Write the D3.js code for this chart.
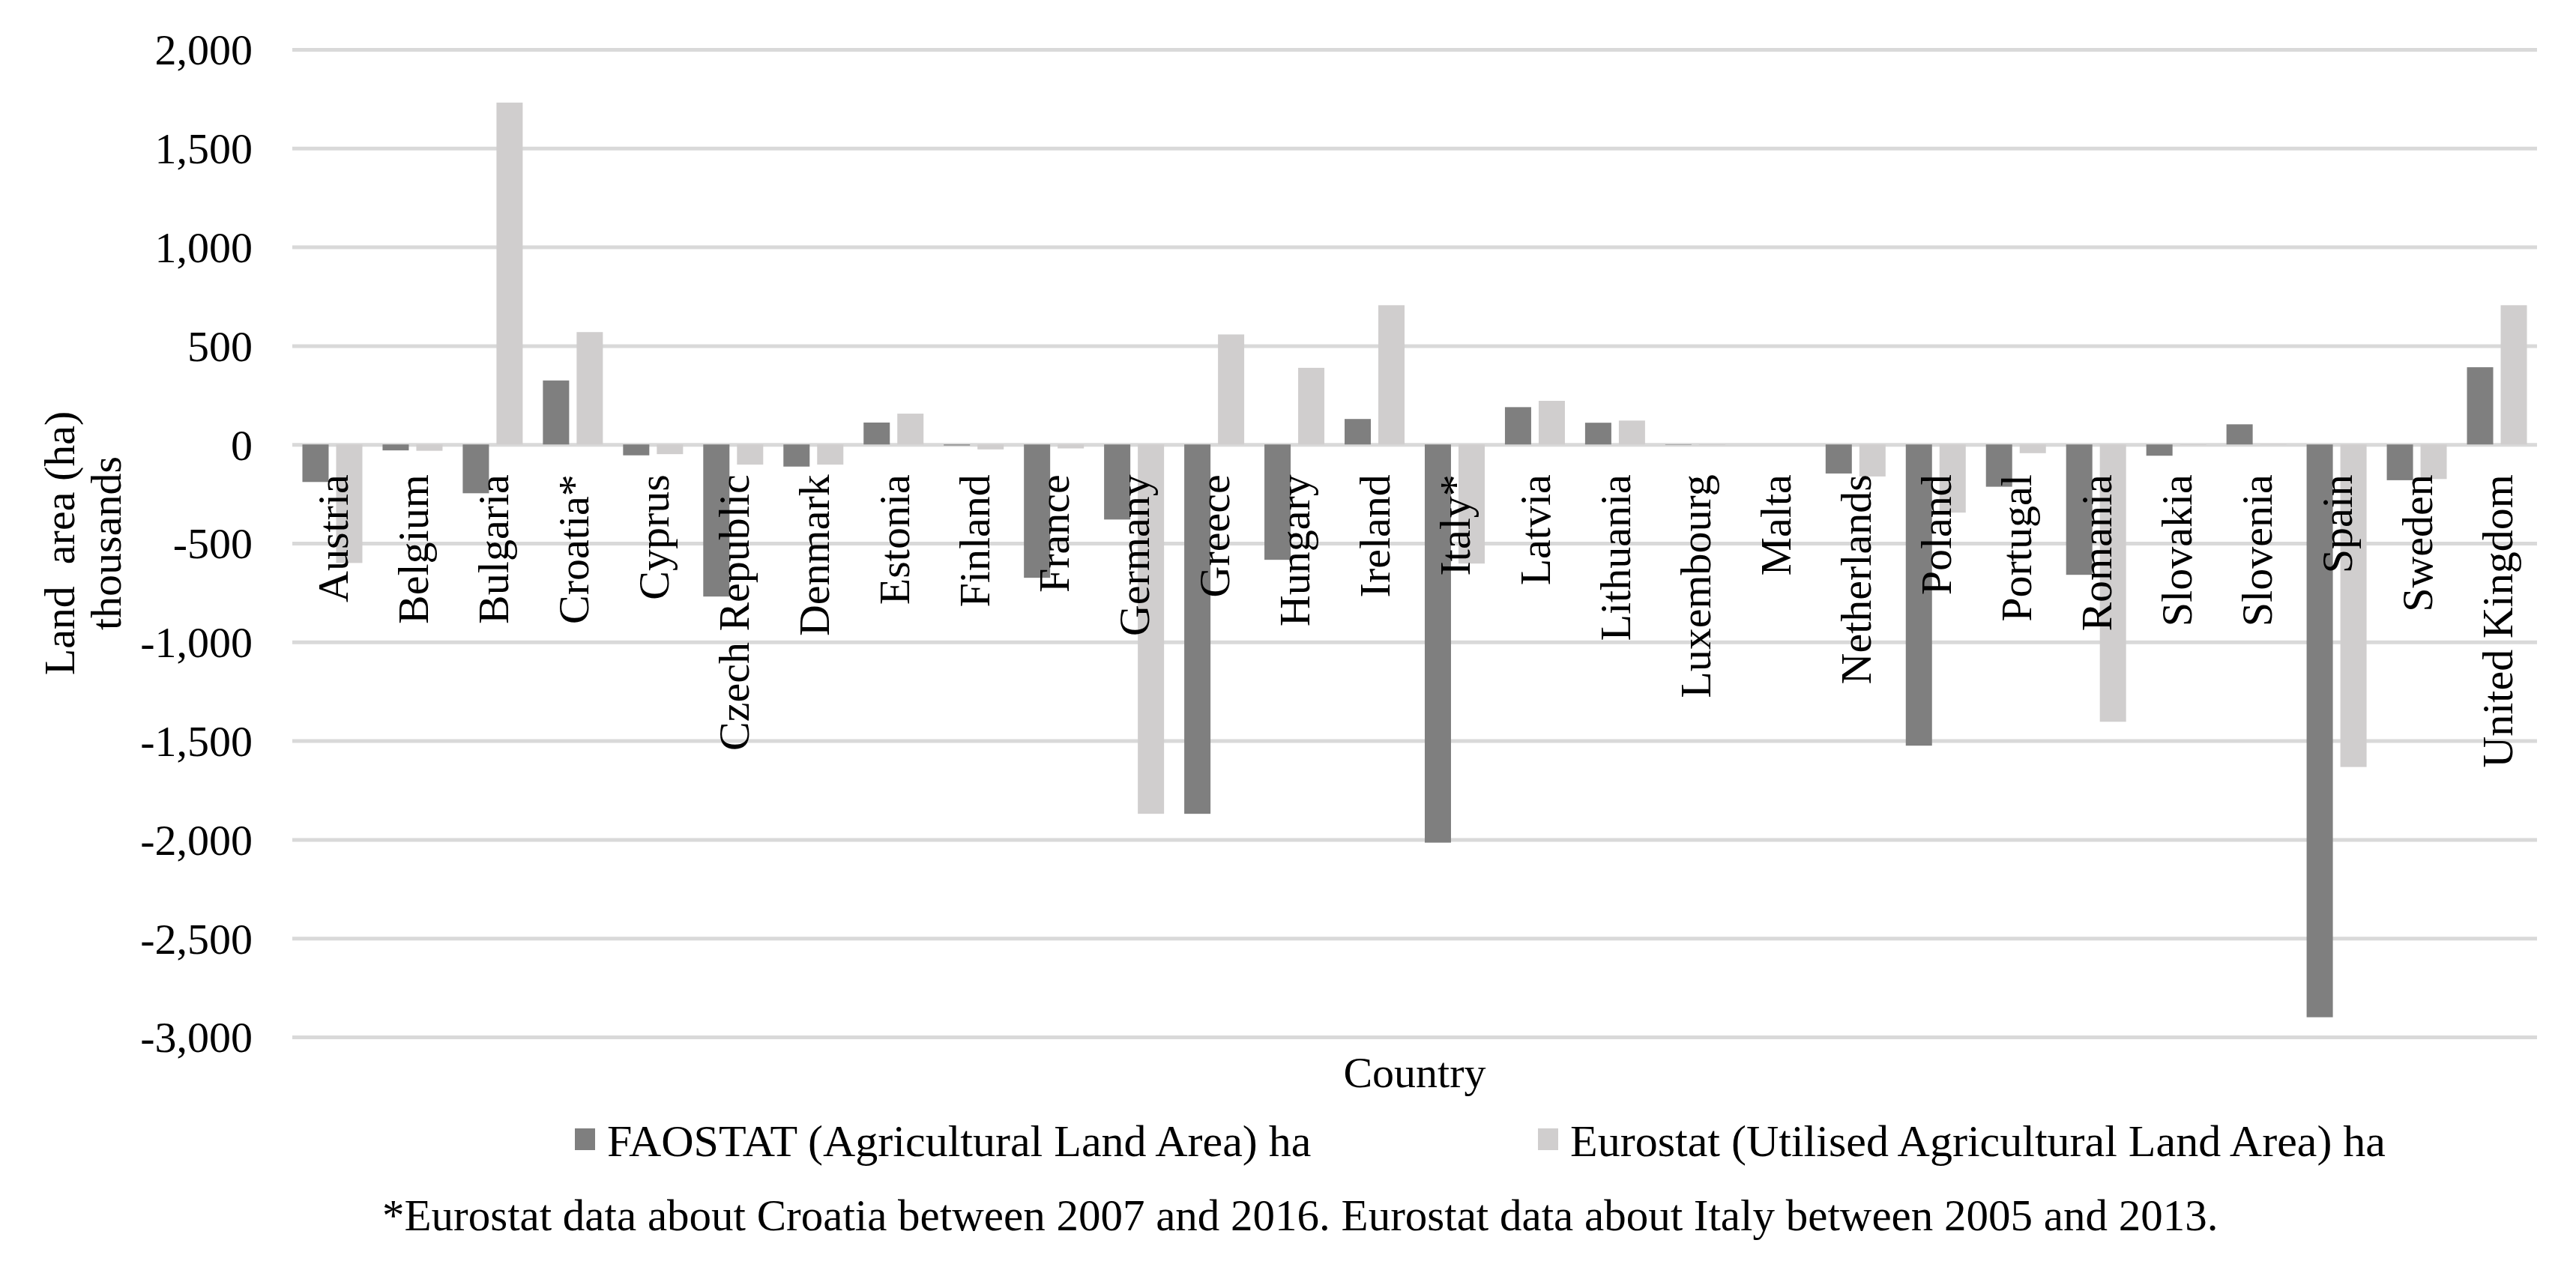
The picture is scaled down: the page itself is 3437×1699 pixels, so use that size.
<!DOCTYPE html>
<html>
<head>
    <meta charset="utf-8">
    <title>Agricultural land area change by country</title>
    <script src="https://d3js.org/d3.v7.min.js"></script>
    <style>
        body { margin: 0; background: #fff; }
        svg { display: block; font-family: "Liberation Serif", "Times New Roman", serif; }
        .grid line { stroke: #d9d9d9; stroke-width: 5; }
        .grid path { display: none; }
        .ylab text, .xlab text { font-size: 58px; fill: #000; }
    </style>
</head>
<body>
    <div id="chart"></div>

    <script>
        // Data, thousands of hectares
        const countries = ['Austria', 'Belgium', 'Bulgaria', 'Croatia*', 'Cyprus', 'Czech Republic',
            'Denmark', 'Estonia', 'Finland', 'France', 'Germany', 'Greece', 'Hungary', 'Ireland',
            'Italy*', 'Latvia', 'Lithuania', 'Luxembourg', 'Malta', 'Netherlands', 'Poland',
            'Portugal', 'Romania', 'Slovakia', 'Slovenia', 'Spain', 'Sweden', 'United Kingdom'];
        const faostat = [-190, -30, -247, 324, -55, -770, -112, 111, -5, -675, -380, -1870, -584, 129,
            -2016, 189, 110, -2, 0, -147, -1525, -214, -660, -57, 102, -2900, -181, 391];
        const eurostat = [-600, -32, 1731, 569, -49, -102, -102, 156, -25, -20, -1870, 557, 388, 705,
            -603, 221, 121, -3, 0, -162, -345, -44, -1404, -3, 2, -1633, -175, 705];
        const yTicks = [2000, 1500, 1000, 500, 0, -500, -1000, -1500, -2000, -2500, -3000];
        const seriesNames = ['FAOSTAT (Agricultural Land Area) ha', 'Eurostat (Utilised Agricultural Land Area) ha'];
        const seriesColors = ['#7f7f7f', '#d0cece'];
        const footnote = '*Eurostat data about Croatia between 2007 and 2016. Eurostat data about Italy between 2005 and 2013.';

        const width = 3437;
        const height = 1699;
        const plot = { left: 390, right: 3385, top: 66, bottom: 1384 };

        const svg = d3.select('#chart')
            .append('svg')
            .attr('width', width)
            .attr('height', height);

        const x = d3.scaleBand()
            .domain(countries)
            .range([plot.left, plot.right]);

        const y = d3.scaleLinear()
            .domain([-3000, 2000])
            .range([plot.bottom, plot.top]);

        const fmt = v => d3.format(',')(v).replace('\u2212', '-');

        // Gridlines
        svg.append('g')
            .attr('class', 'grid')
            .attr('transform', `translate(${plot.left},0)`)
            .call(d3.axisLeft(y).tickValues(yTicks).tickSize(-(plot.right - plot.left)).tickFormat(''));

        // Y tick labels
        svg.append('g')
            .attr('class', 'ylab')
            .selectAll('text')
            .data(yTicks)
            .enter().append('text')
            .attr('x', 337)
            .attr('y', d => y(d))
            .attr('dy', '0.35em')
            .attr('text-anchor', 'end')
            .text(fmt);

        // Bars
        const barW = 35, gap = 10;
        const series = [faostat, eurostat];
        series.forEach((vals, si) => {
            svg.append('g')
                .selectAll('rect')
                .data(countries.map((c, i) => ({ c, v: vals[i] })))
                .enter().append('rect')
                .attr('x', d => x(d.c) + x.bandwidth() / 2 + (si === 0 ? -(gap / 2 + barW) : gap / 2))
                .attr('width', barW)
                .attr('y', d => Math.min(y(d.v), y(0)))
                .attr('height', d => Math.abs(y(d.v) - y(0)))
                .attr('fill', seriesColors[si]);
        });

        // Country labels, rotated, drawn over the bars
        svg.append('g')
            .attr('class', 'xlab')
            .selectAll('text')
            .data(countries)
            .enter().append('text')
            .attr('transform', d => `translate(${x(d) + x.bandwidth() / 2},${y(0) + 40}) rotate(-90)`)
            .attr('dy', '0.35em')
            .attr('text-anchor', 'end')
            .text(d => d);

        // Axis titles
        const midY = (plot.top + plot.bottom) / 2;
        svg.append('text')
            .attr('transform', `translate(99,${midY}) rotate(-90)`)
            .attr('text-anchor', 'middle')
            .style('font-size', '58px')
            .style('white-space', 'pre')
            .text('Land  area (ha)');
        svg.append('text')
            .attr('transform', `translate(161,${midY}) rotate(-90)`)
            .attr('text-anchor', 'middle')
            .style('font-size', '58px')
            .text('thousands');

        svg.append('text')
            .attr('x', (plot.left + plot.right) / 2)
            .attr('y', 1451)
            .attr('text-anchor', 'middle')
            .style('font-size', '58px')
            .text('Country');

        // Legend
        const legendX = [767, 2052];
        const legend = svg.append('g')
            .selectAll('g')
            .data(seriesNames)
            .enter().append('g')
            .attr('transform', (d, i) => `translate(${legendX[i]},1506)`);
        legend.append('rect')
            .attr('width', 27)
            .attr('height', 29)
            .attr('fill', (d, i) => seriesColors[i]);
        legend.append('text')
            .attr('x', 43)
            .attr('y', 37)
            .style('font-size', '60px')
            .text(d => d);

        // Footnote
        svg.append('text')
            .attr('x', 510)
            .attr('y', 1642)
            .style('font-size', '59px')
            .text(footnote);
    </script>
</body>
</html>
